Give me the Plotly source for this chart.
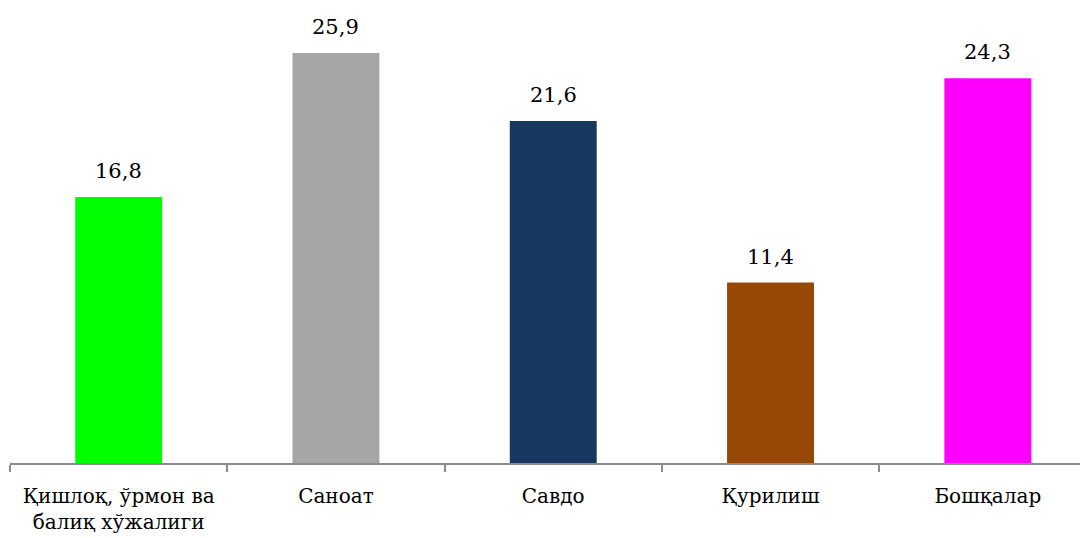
import plotly.graph_objects as go

categories = ["Қишлоқ, ўрмон ва<br>балиқ хўжалиги", "Саноат", "Савдо", "Қурилиш", "Бошқалар"]
values = [16.8, 25.9, 21.6, 11.4, 24.3]
labels = ["16,8", "25,9", "21,6", "11,4", "24,3"]
colors = ["#00FF00", "#A6A6A6", "#17375E", "#974706", "#FF00FF"]

FONT = "DejaVu Serif"

fig = go.Figure()
fig.add_trace(go.Bar(
    x=categories, y=values, marker=dict(color=colors, line=dict(width=0)),
    width=0.4, hoverinfo="skip",
))

for c, v, t in zip(categories, values, labels):
    fig.add_annotation(x=c, y=v, text=t, showarrow=False, yanchor="bottom",
                       yshift=12, font=dict(family=FONT, size=21, color="#000000"))

fig.update_layout(
    width=1080, height=530,
    margin=dict(l=2, r=0, t=0, b=75),
    paper_bgcolor="white", plot_bgcolor="white",
    showlegend=False,
    font=dict(family=FONT, size=20, color="#000000"),
)
fig.update_xaxes(
    range=[-0.5, 4.461], showline=True, linecolor="#8C8C8C", linewidth=1.5,
    ticks="outside", tickson="boundaries", ticklen=7, tickcolor="#8C8C8C", tickwidth=1.5,
    ticklabelstandoff=14, tickangle=0, automargin=False,
    showgrid=False, tickfont=dict(family=FONT, size=20, color="#000000"),
)
fig.update_yaxes(range=[0, 28.74], visible=False, showgrid=False, zeroline=False, automargin=False)

fig.write_html("out.html")
